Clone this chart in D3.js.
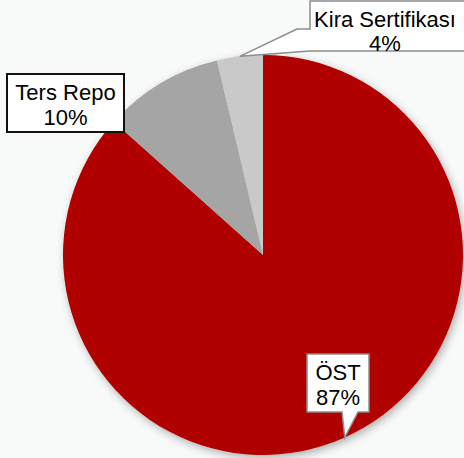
<!DOCTYPE html>
<html>
<head>
<meta charset="utf-8">
<script src="https://cdn.jsdelivr.net/npm/d3@7"></script>
<style>
  body { margin: 0; background: #f8f9f9; }
  svg { display: block; }
  text { font-family: "Liberation Sans", Arial, sans-serif; font-size: 22px; fill: #000; }
</style>
</head>
<body>
<div id="chart"></div>
<script>
const WIDTH = 464;
const HEIGHT = 458;
const CENTER = { x: 263, y: 255 };
const RADIUS = 200;

// datos
const categories = ['ÖST', 'Ters Repo', 'Kira Sertifikası'];
const values = [86.6, 9.7, 3.7];
const colors = ['#b00000', '#a5a5a5', '#c9c9c9'];

const svg = d3.select('#chart')
  .append('svg')
  .attr('width', WIDTH)
  .attr('height', HEIGHT);

const defs = svg.append('defs');
defs.append('filter')
  .attr('id', 'shadow')
  .attr('x', '-20%').attr('y', '-20%')
  .attr('width', '140%').attr('height', '140%')
  .append('feDropShadow')
  .attr('dx', 2).attr('dy', 3)
  .attr('stdDeviation', 4)
  .attr('flood-color', '#000')
  .attr('flood-opacity', 0.3);

const data = categories.map((c, i) => ({ category: c, value: values[i] }));

const pie = d3.pie()
  .sort(null)
  .value(d => d.value);

const arc = d3.arc()
  .innerRadius(0)
  .outerRadius(RADIUS);

const edgeArc = d3.arc()
  .innerRadius(RADIUS)
  .outerRadius(RADIUS);

const arcs = pie(data);

const pieGroup = svg.append('g')
  .attr('transform', `translate(${CENTER.x},${CENTER.y})`)
  .attr('filter', 'url(#shadow)');

pieGroup.selectAll('path')
  .data(arcs)
  .join('path')
  .attr('d', arc)
  .attr('fill', (d, i) => colors[i]);

// etiquetas
const total = d3.sum(values);
const pct = d => Math.round(d.value / total * 100) + '%';

function tip(i) {
  const [x, y] = edgeArc.centroid(arcs[i]);
  return [CENTER.x + x, CENTER.y + y];
}

const labels = svg.append('g');

// ÖST
{
  const [tx, ty] = tip(0);
  labels.append('path')
    .attr('d', `M307,354 H369 V412 H358 L${tx},${ty} L342,412 H307 Z`)
    .attr('fill', '#fff')
    .attr('stroke', '#8c8c8c')
    .attr('stroke-width', 1.5);
  const t = labels.append('text').attr('text-anchor', 'middle');
  t.append('tspan').attr('x', 338).attr('y', 380).text(arcs[0].data.category);
  t.append('tspan').attr('x', 338).attr('y', 405).text(pct(arcs[0].data));
}

// Ters Repo
{
  labels.append('rect')
    .attr('x', 7).attr('y', 74)
    .attr('width', 117).attr('height', 58)
    .attr('fill', '#fff')
    .attr('stroke', '#111')
    .attr('stroke-width', 2);
  const t = labels.append('text').attr('text-anchor', 'middle');
  t.append('tspan').attr('x', 65.5).attr('y', 100).text(arcs[1].data.category);
  t.append('tspan').attr('x', 65.5).attr('y', 125).text(pct(arcs[1].data));
}

// Kira Sertifikasi
{
  const [tx, ty] = tip(2);
  labels.append('path')
    .attr('d', `M310,1 H470 V51 H310 L${tx},${ty} L297,29 H310 Z`)
    .attr('fill', '#fff')
    .attr('stroke', '#8c8c8c')
    .attr('stroke-width', 1.5);
  const t = labels.append('text').attr('text-anchor', 'middle');
  t.append('tspan').attr('x', 385).attr('y', 27).text(arcs[2].data.category);
  t.append('tspan').attr('x', 385).attr('y', 51).text(pct(arcs[2].data));
}
</script>
</body>
</html>
